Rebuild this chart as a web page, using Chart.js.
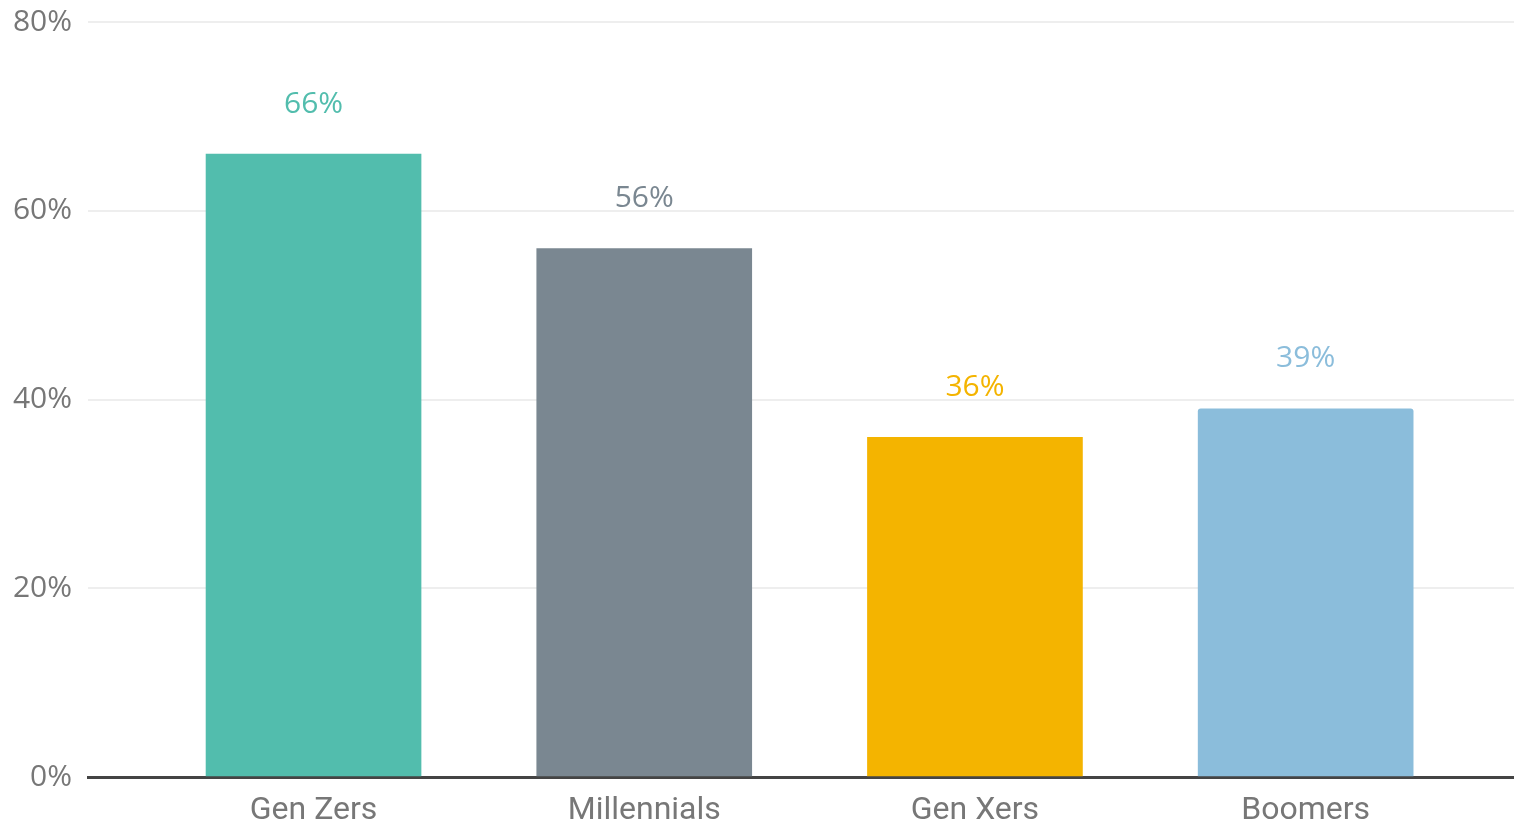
<!DOCTYPE html>
<html>
<head>
<meta charset="utf-8">
<title>Share by generation</title>
<script src="https://cdn.jsdelivr.net/npm/chart.js@4/dist/chart.umd.min.js"></script>
<style>
  html, body { margin: 0; padding: 0; background: #fff; }
  #wrap { width: 1514px; height: 824px; }
</style>
</head>
<body>
<div id="wrap"><canvas id="chart"></canvas></div>
<script>
const categories = ['Gen Zers', 'Millennials', 'Gen Xers', 'Boomers'];
const values = [66, 56, 36, 39];
const yTicks = [0, 20, 40, 60, 80];

const barColors = ['#52bdad', '#7a8791', '#f4b400', '#8bbddb'];

// value labels above each bar, same colour as the bar
const barLabels = {
    id: 'barLabels',
    afterDatasetsDraw(chart) {
        const ctx = chart.ctx;
        const meta = chart.getDatasetMeta(0);
        ctx.save();
        ctx.font = '30px "Open Sans"';
        ctx.textAlign = 'center';
        ctx.textBaseline = 'middle';
        meta.data.forEach((bar, i) => {
            ctx.fillStyle = barColors[i];
            ctx.fillText(values[i] + '%', bar.x, bar.y - 50);
        });
        ctx.restore();
    }
};

const ctx = document.getElementById('chart').getContext('2d');
const chart = new Chart(ctx, {
    type: 'bar',
    data: {
        datasets: [{
            data: values.map((v, i) => ({ x: i, y: v })),
            backgroundColor: barColors,
            borderRadius: [0, 0, 0, 3],
            borderSkipped: 'bottom',
            barThickness: 215
        }]
    },
    options: {
        responsive: true,
        maintainAspectRatio: false,
        animation: false,
        layout: { padding: { top: 22, right: 0, left: 0, bottom: 0 } },
        plugins: {
            legend: { display: false },
            tooltip: { enabled: false }
        },
        scales: {
            x: {
                type: 'linear',
                offset: false,
                min: -0.682,
                max: 3.630,
                afterBuildTicks: (scale) => {
                    scale.ticks = categories.map((_, i) => ({ value: i }));
                },
                afterFit: (scale) => { scale.height = 47; },
                grid: { display: false, drawTicks: false },
                border: { display: true, color: '#444', width: 3 },
                ticks: {
                    callback: (v) => categories[v],
                    color: '#777',
                    font: { family: 'Roboto', size: 32 },
                    padding: 15,
                    maxRotation: 0,
                    autoSkip: false
                }
            },
            y: {
                min: 0,
                max: 80,
                afterBuildTicks: (scale) => {
                    scale.ticks = yTicks.map(v => ({ value: v }));
                },
                afterFit: (scale) => {
                    scale.width = 88;
                    scale.paddingTop = 0;
                    scale.paddingBottom = 0;
                },
                grid: { color: '#eeeeee', lineWidth: 2, drawTicks: false },
                border: { display: false },
                ticks: {
                    callback: (v) => v + '%',
                    color: '#777',
                    font: { family: 'Open Sans', size: 30 },
                    padding: 16
                }
            }
        }
    },
    plugins: [barLabels]
});
</script>
</body>
</html>
